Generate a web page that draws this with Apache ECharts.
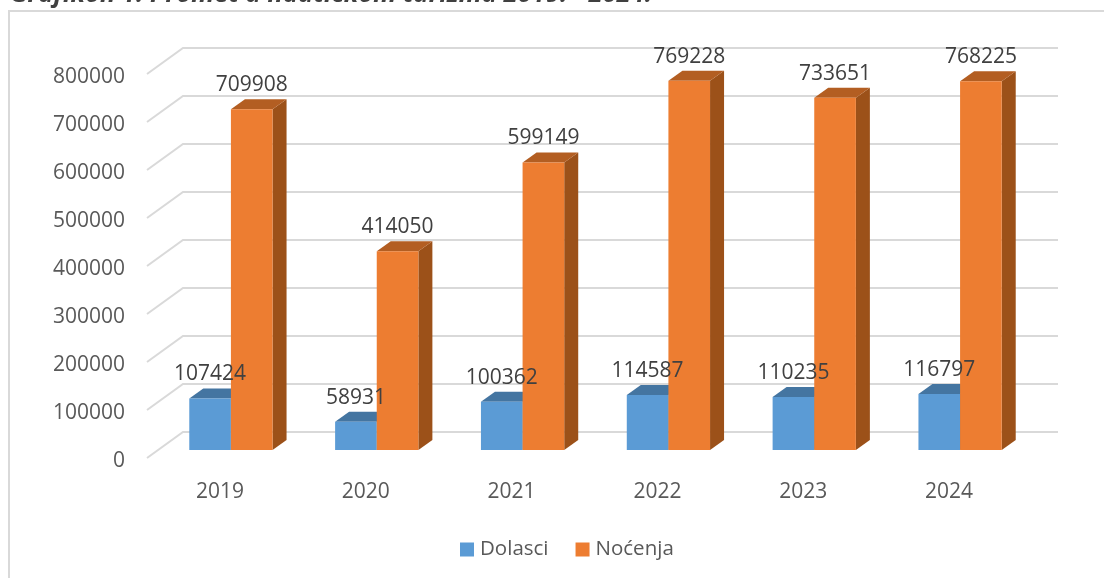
<!DOCTYPE html>
<html><head><meta charset="utf-8">
<style>html,body{margin:0;padding:0;background:#fff}#c{width:1104px;height:578px}</style>
<script src="https://cdn.jsdelivr.net/npm/echarts@6/dist/echarts.min.js"></script>
</head><body><div id="c"></div>
<script>
const categories = ['2019','2020','2021','2022','2023','2024'];
const dolasci = [107424,58931,100362,114587,110235,116797];
const nocenja = [709908,414050,599149,769228,733651,768225];
const ticks = [0,100000,200000,300000,400000,500000,600000,700000,800000];
const FONT = '"Open Sans"';
const chart = echarts.init(document.getElementById('c'), null, {renderer:'canvas'});

const INSET = [11,-8], DEPTH = [14,-10], WALL = [36,-26];

function barRenderer(side, cols){
  return function(params, api){
    const i = api.value(0), v = api.value(1);
    const step = api.size([1,0])[0];
    const w = step*0.2855;
    const top = api.coord([i,v]), base = api.coord([i,0]);
    const x0 = top[0]+INSET[0] + (side<0 ? -w : 0), x1 = x0+w;
    const yT = top[1]+INSET[1], yB = base[1]+INSET[1];
    const dx = DEPTH[0], dy = DEPTH[1];
    return {type:'group',children:[
      {type:'polygon',shape:{points:[[x1,yT],[x1+dx,yT+dy],[x1+dx,yB+dy],[x1,yB]]},style:{fill:cols.side}},
      {type:'polygon',shape:{points:[[x0,yT],[x0+dx,yT+dy],[x1+dx,yT+dy],[x1,yT]]},style:{fill:cols.top}},
      {type:'rect',shape:{x:x0,y:yT,width:w,height:yB-yT},style:{fill:cols.front}},
      {type:'text',z2:50,style:{x:(x0+x1)/2,y:yT-24,text:String(v),fill:'#404040',font:'21px '+FONT,align:'center',verticalAlign:'middle'}}
    ]};
  };
}
function wallRenderer(params, api){
  const v = api.value(1);
  const p = api.coord([0,v]);
  const left = params.coordSys.x, right = params.coordSys.x+params.coordSys.width;
  return {type:'polyline',shape:{points:[[left,p[1]],[left+WALL[0],p[1]+WALL[1]],[right+WALL[0],p[1]+WALL[1]]]},
    style:{fill:null,stroke:'#d9d9d9',lineWidth:2}};
}

chart.setOption({
  animation:false,
  backgroundColor:'#fff',
  grid:{left:147,right:82,top:74,bottom:120,containLabel:false},
  xAxis:{type:'category',data:categories,axisLine:{show:false},axisTick:{show:false},splitLine:{show:false},
    axisLabel:{color:'#595959',fontFamily:FONT,fontSize:21,margin:24}},
  yAxis:{type:'value',min:0,max:800000,interval:100000,axisLine:{show:false},axisTick:{show:false},splitLine:{show:false},
    axisLabel:{margin:22,formatter:v=>'{a|'+v+'}',
      rich:{a:{color:'#595959',fontFamily:FONT,fontSize:21,padding:[7,0,0,0]}}}},
  legend:{left:455,top:534,icon:'rect',itemWidth:14,itemHeight:14,itemGap:27,data:['Dolasci','Noćenja'],
    textStyle:{color:'#595959',fontFamily:FONT,fontSize:20.5,padding:[0,0,0,1]}},
  graphic:[
    {type:'polyline',silent:true,z:-1,shape:{points:[[9,578],[9,11],[1104,11]]},style:{fill:null,stroke:'#d9d9d9',lineWidth:2}},
    {type:'text',silent:true,x:10,y:8,style:{text:'Grafikon 1: Promet u nautičkom turizmu 2019. - 2024.',fill:'#404040',font:'italic bold 25.5px '+FONT,align:'left',verticalAlign:'bottom'}}
  ],
  series:[
    {name:'wall',type:'custom',silent:true,z:1,renderItem:wallRenderer,data:ticks.map(t=>[0,t]),encode:{x:0,y:1}},
    {name:'Dolasci',type:'custom',z:2,renderItem:barRenderer(-1,{front:'#5b9bd5',top:'#4475a1',side:'#3f6f9c'}),
      itemStyle:{color:'#5b9bd5'},data:dolasci.map((v,i)=>[i,v]),encode:{x:0,y:1}},
    {name:'Noćenja',type:'custom',z:2,renderItem:barRenderer(1,{front:'#ed7d31',top:'#b35e22',side:'#9c5119'}),
      itemStyle:{color:'#ed7d31'},data:nocenja.map((v,i)=>[i,v]),encode:{x:0,y:1}}
  ]
});
</script></body></html>
